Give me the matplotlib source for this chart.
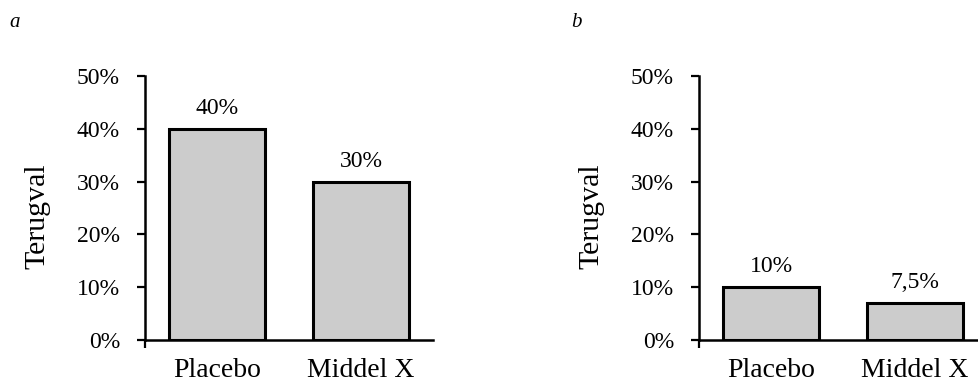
import numpy as np
import matplotlib
matplotlib.use("Agg")
import matplotlib.pyplot as plt

# ----- DATA -----
categories = ["Placebo", "Middel X"]
values_a = [40, 30]
labels_a = ["40%", "30%"]
values_b = [10, 7]
labels_b = ["10%", "7,5%"]
yticks = [0, 10, 20, 30, 40, 50]
ytick_labels = ["0%", "10%", "20%", "30%", "40%", "50%"]

plt.rcParams['font.family'] = ['Liberation Serif', 'DejaVu Serif']

fig = plt.figure(figsize=(9.79, 3.81), dpi=100)

def draw_panel(ax, values, labels):
    x = np.arange(len(categories))
    ax.bar(x, values, width=0.667, color="#cccccc", edgecolor="black", linewidth=2.2, zorder=3)
    for xi, v, lab in zip(x, values, labels):
        ax.annotate(lab, (xi, v), xytext=(0, 7), textcoords="offset points",
                    ha="center", va="bottom", fontsize=17)
    ax.set_xlim(-0.5, 1.5)
    ax.set_ylim(0, 50)
    ax.set_yticks(yticks)
    ax.set_yticklabels(ytick_labels, fontsize=17)
    ax.set_xticks(x)
    ax.set_xticklabels(categories, fontsize=20)
    ax.set_xticks([-0.5], minor=True)
    ax.tick_params(axis="x", which="major", length=0, pad=13)
    ax.tick_params(axis="x", which="minor", length=6, width=1.6, direction="out")
    ax.tick_params(axis="y", length=6, width=1.6, direction="out", pad=12)
    for s in ["top", "right"]:
        ax.spines[s].set_visible(False)
    for s in ["left", "bottom"]:
        ax.spines[s].set_linewidth(1.8)
    ax.set_ylabel("Terugval", fontsize=21.5)
    ax.yaxis.set_label_coords(-0.33, 0.47)
    ax.patch.set_alpha(0)

ax1 = fig.add_axes([145/979, 1-340/381, 288/979, 264/381])
draw_panel(ax1, values_a, labels_a)
ax2 = fig.add_axes([699/979, 1-340/381, 288/979, 264/381])
draw_panel(ax2, values_b, labels_b)

fig.text(9/979, 1-27/381, "a", fontsize=15, style="italic")
fig.text(571/979, 1-27/381, "b", fontsize=15, style="italic")

plt.savefig("out.png", dpi=100)
